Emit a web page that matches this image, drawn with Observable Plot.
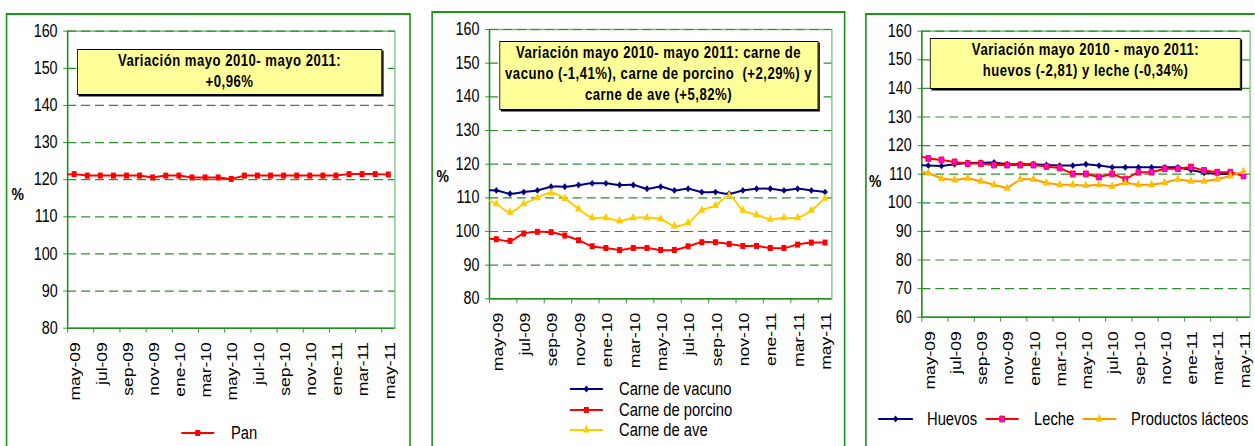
<!DOCTYPE html>
<html lang="es"><head><meta charset="utf-8">
<script src="https://cdn.jsdelivr.net/npm/d3@7"></script>
<script src="https://cdn.jsdelivr.net/npm/@observablehq/plot@0.6"></script>
<style>
html,body{margin:0;padding:0;overflow:hidden;background:#fff;width:1255px;height:446px}
#page{position:relative;height:446px;overflow:hidden;font-family:"Liberation Sans",Arial,sans-serif;color:#000;transform-origin:0 0}
.panel{position:absolute;border:2px solid #1e961e;border-left-width:2.4px;border-right-width:2.4px;box-sizing:border-box;height:480px}
.chart{position:absolute;top:0}
.chart svg{overflow:visible;display:block}
.box{position:absolute;background:#ffff99;border:1.5px solid #000;box-shadow:1.8px 1.5px 0 #000;box-sizing:border-box;font-weight:bold;font-size:16px;letter-spacing:0.6px;line-height:21px;text-align:center;white-space:nowrap}
.pct{position:absolute;font-weight:bold;font-size:17px;line-height:20px}
.sw{position:absolute;height:20px;overflow:visible}
.lt{position:absolute;height:20px;line-height:20px;font-size:18px;white-space:nowrap}
</style></head>
<body><div id="page"></div>
<script>
// Month categories (first entry = month before the visible range, clipped at the left edge)
const months = ["abr-09","may-09","jun-09","jul-09","ago-09","sep-09","oct-09","nov-09","dic-09","ene-10","feb-10","mar-10","abr-10","may-10","jun-10","jul-10","ago-10","sep-10","oct-10","nov-10","dic-10","ene-11","feb-11","mar-11","abr-11","may-11"];

// Panel 1
const pan = [121.3, 121.5, 121.1, 121.1, 121.1, 121.1, 121.1, 120.6, 121.1, 121.1, 120.6, 120.6, 120.6, 120.2, 121.1, 121.1, 121.1, 121.1, 121.1, 121.1, 121.1, 121.1, 121.5, 121.5, 121.5, 121.4];
// Panel 2
const vacuno = [112.2, 112.2, 111.2, 111.7, 112.2, 113.3, 113.3, 113.8, 114.3, 114.3, 113.8, 113.8, 112.7, 113.3, 112.2, 112.7, 111.7, 111.7, 111.2, 112.2, 112.7, 112.7, 112.2, 112.7, 112.2, 111.7];
const porcino = [97.9, 97.7, 97.2, 99.4, 99.9, 99.8, 98.8, 97.4, 95.6, 95.1, 94.5, 95.1, 95.1, 94.5, 94.5, 95.6, 96.8, 96.8, 96.3, 95.7, 95.7, 95.1, 95.1, 96.1, 96.7, 96.7];
const ave = [110.0, 108.2, 105.7, 108.2, 110.0, 111.5, 109.8, 106.7, 104.1, 104.1, 103.1, 104.1, 104.1, 103.7, 101.6, 102.6, 106.3, 107.7, 110.7, 106.3, 105.0, 103.6, 104.1, 104.1, 106.3, 109.9];
// Panel 3
const huevos = [113.3, 113.0, 112.9, 113.5, 113.9, 114.0, 114.1, 113.5, 113.5, 113.5, 113.2, 113.0, 113.0, 113.5, 113.0, 112.4, 112.4, 112.4, 112.4, 112.4, 112.4, 111.5, 110.5, 110.1, 110.1, 110.2];
const leche = [116.7, 115.5, 115.0, 114.3, 113.7, 113.7, 113.2, 113.2, 113.2, 113.2, 112.7, 112.2, 110.1, 110.1, 109.0, 110.1, 108.3, 110.7, 110.7, 111.9, 111.9, 112.5, 111.3, 110.7, 110.7, 109.4];
const lacteos = [111.0, 110.4, 108.5, 108.0, 108.6, 107.5, 106.3, 105.1, 108.2, 108.2, 106.9, 106.3, 106.3, 106.0, 106.3, 105.8, 107.0, 106.3, 106.3, 107.0, 108.2, 107.5, 107.5, 108.2, 109.4, 110.9];

// Tick values
const yTicks1 = [80, 90, 100, 110, 120, 130, 140, 150, 160];
const yTicks3 = [60, 70, 80, 90, 100, 110, 120, 130, 140, 150, 160];

// Texts
const titles = [
  ["Variación mayo 2010- mayo 2011:", "+0,96%"],
  ["Variación mayo 2010- mayo 2011: carne de", "vacuno (-1,41%), carne de porcino\u00a0\u00a0(+2,29%) y", "carne de ave (+5,82%)"],
  ["Variación mayo 2010 - mayo 2011:", "huevos (-2,81) y leche (-0,34%)"]
];

// The original picture is horizontally condensed: lay out wider, then squeeze.
const SX = 0.82;
const X = v => v / SX;

const page = document.getElementById("page");
page.style.width = X(1255) + "px";
page.style.transform = `scaleX(${SX})`;

const axisGreen = "#1f8f1f", gridGreen = "#2e8e2e", frameGreen = "#70c070";

function el(tag, cls, css, parent = page) {
  const e = document.createElement(tag);
  if (cls) e.className = cls;
  Object.assign(e.style, css);
  parent.appendChild(e);
  return e;
}

const symMap = {square: d3.symbolSquare, diamond2: d3.symbolDiamond2, triangle: d3.symbolTriangle};

function drawPanel(cfg) {
  const rowsOf = vals => vals.map((v, k) => ({i: k - 1, v, m: months[k]}));
  const bounds = d3.range(-0.5, 24, 2);
  const labelIdx = d3.range(0, 25, 2);
  const marks = [
    Plot.frame({stroke: frameGreen, strokeWidth: 1.5}),
    Plot.ruleY(cfg.yTicks.slice(1), {stroke: gridGreen, strokeDasharray: "11,6", strokeWidth: 1.2}),
    Plot.ruleX([-0.5], {stroke: axisGreen, strokeWidth: 1.8}),
    Plot.ruleY([cfg.yTicks[0]], {stroke: axisGreen, strokeWidth: 1.5}),
    Plot.axisY(cfg.yTicks, {label: null, tickSize: 4.9, tickPadding: 7.3, stroke: axisGreen, fill: "#000", tickFormat: d => String(d)}),
    Plot.axisX(bounds, {label: null, tickSize: 5, tickFormat: () => "", stroke: axisGreen}),
    Plot.axisX(labelIdx, {label: null, tickSize: 0, tickPadding: 14, tickRotate: -90, fill: "#000", dx: 2, tickFormat: i => months[i + 1]})
  ];
  for (const s of cfg.series) {
    const rows = rowsOf(s.values);
    marks.push(Plot.line(rows, {x: "i", y: "v", stroke: s.line, strokeWidth: 2, curve: cfg.curve, clip: true}));
  }
  for (const s of cfg.series) {
    const rows = rowsOf(s.values).filter(d => d.i >= 0);
    marks.push(Plot.dot(rows, {x: "i", y: "v", symbol: s.symbol, r: s.r, fill: s.fill, stroke: s.stroke || "none", strokeWidth: 1}));
  }
  const svg = Plot.plot({
    width: X(cfg.w), height: 446,
    marginLeft: X(cfg.ml), marginRight: X(cfg.mr), marginTop: cfg.mt, marginBottom: 446 - cfg.bottom,
    x: {domain: [-0.5, 24.5], axis: null},
    y: {domain: [cfg.yTicks[0], cfg.yTicks[cfg.yTicks.length - 1]], axis: null},
    style: {fontFamily: '"Liberation Sans",Arial,sans-serif', fontSize: "17.5px", background: "transparent", color: "#000"},
    marks
  });
  const holder = el("div", "chart", {left: X(cfg.left) + "px", width: X(cfg.w) + "px"});
  holder.appendChild(svg);

  // annotation box
  const b = cfg.box;
  const box = el("div", "box", {left: X(b.x) + "px", top: b.y + "px", width: X(b.w) + "px", height: b.h + "px"});
  cfg.title.forEach(t => { const d = el("div", null, {}, box); d.textContent = t; });

  // "%" label
  const p = el("div", "pct", {left: X(cfg.pct[0]) + "px", top: (cfg.pct[1] - 10) + "px"});
  p.textContent = "%";

  // legend
  cfg.series.forEach((s, j) => {
    const L = cfg.legend[j];
    const w = X(L.x2 - L.x1);
    const sw = d3.create("svg").attr("class", "sw").attr("width", w).attr("height", 20)
      .style("left", X(L.x1) + "px").style("top", (L.cy - 10) + "px").style("position", "absolute");
    sw.append("line").attr("x1", 0).attr("x2", w).attr("y1", 10).attr("y2", 10).attr("stroke", s.line).attr("stroke-width", 2);
    sw.append("path").attr("transform", `translate(${w / 2},10)`)
      .attr("d", d3.symbol(symMap[s.symbol], Math.PI * s.r * s.r)())
      .attr("fill", s.fill).attr("stroke", s.stroke || "none");
    page.appendChild(sw.node());
    const t = el("div", "lt", {left: X(L.tx) + "px", top: (L.cy - 10) + "px"});
    t.textContent = s.name;
  });
}

// panel borders
el("div", "panel", {left: X(6) + "px", top: "12.7px", width: X(405) + "px"});
el("div", "panel", {left: X(431.7) + "px", top: "11px", width: X(413.6) + "px"});
el("div", "panel", {left: X(865.3) + "px", top: "12.7px", width: X(420) + "px"});

drawPanel({
  left: 8, w: 402, ml: 59, mr: 15.7, mt: 30.7, bottom: 327.7, yTicks: yTicks1, curve: "linear",
  series: [{name: "Pan", values: pan, line: "#ff0000", symbol: "square", r: 3.4, fill: "#ff0000"}],
  box: {x: 77, y: 49, w: 305, h: 46}, title: titles[0], pct: [11.5, 195],
  legend: [{x1: 181, x2: 214, cy: 433, tx: 231}]
});
drawPanel({
  left: 434, w: 410, ml: 55.3, mr: 12.3, mt: 29, bottom: 298.3, yTicks: yTicks1, curve: "catmull-rom",
  series: [
    {name: "Carne de vacuno", values: vacuno, line: "#000080", symbol: "diamond2", r: 3.1, fill: "#000080"},
    {name: "Carne de porcino", values: porcino, line: "#ff0000", symbol: "square", r: 3.4, fill: "#ff0000"},
    {name: "Carne de ave", values: ave, line: "#ffcc00", symbol: "triangle", r: 3.2, fill: "#ffcc00"}
  ],
  box: {x: 499, y: 40.7, w: 319, h: 69.3}, title: titles[1], pct: [436.5, 176.5],
  legend: [{x1: 570, x2: 603, cy: 389, tx: 619}, {x1: 570, x2: 603, cy: 410, tx: 619}, {x1: 570, x2: 603, cy: 430, tx: 619}]
});
drawPanel({
  left: 868, w: 387, ml: 53, mr: 5.7, mt: 30.7, bottom: 316.7, yTicks: yTicks3, curve: "linear",
  series: [
    {name: "Huevos", values: huevos, line: "#000080", symbol: "diamond2", r: 3.1, fill: "#000080"},
    {name: "Leche", values: leche, line: "#ff0000", symbol: "square", r: 3.3, fill: "#ff00ff", stroke: "#ff0000"},
    {name: "Productos lácteos", values: lacteos, line: "#ff9900", symbol: "triangle", r: 3.2, fill: "#ffc000"}
  ],
  box: {x: 930, y: 37.7, w: 311, h: 51.6}, title: titles[2], pct: [869, 181.7],
  legend: [{x1: 878, x2: 912.7, cy: 419, tx: 927}, {x1: 986, x2: 1019, cy: 419, tx: 1034}, {x1: 1082, x2: 1116, cy: 419, tx: 1131}]
});
</script></body></html>
